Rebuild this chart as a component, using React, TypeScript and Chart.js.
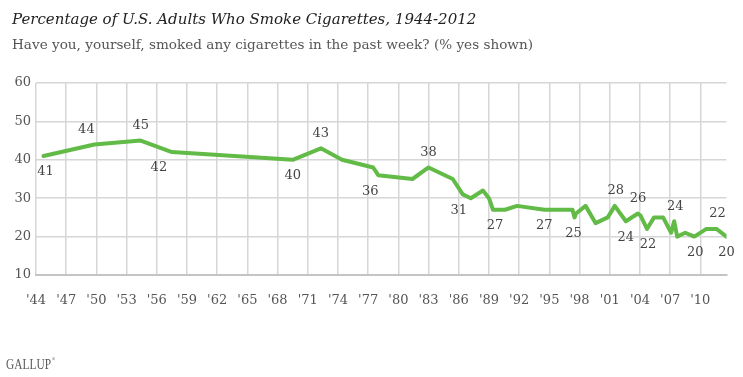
import React, { useEffect, useRef } from "react";
import { Chart, registerables } from "chart.js";

Chart.register(...registerables);

// Survey dates (decimal years) and % of U.S. adults who smoked in the past week
const years = [
  1944.75, 1949.8, 1954.4, 1957.5, 1969.5, 1972.3, 1974.4, 1977.5, 1978.0, 1981.4,
  1983.0, 1985.4, 1986.4, 1987.2, 1988.4, 1989.0, 1989.4, 1990.6, 1991.8, 1994.5,
  1997.3, 1997.5, 1997.65, 1998.6, 1999.6, 2000.8, 2001.5, 2002.6, 2003.8, 2004.05,
  2004.7, 2005.4, 2006.3, 2007.1, 2007.4, 2007.7, 2008.5, 2009.4, 2010.6, 2011.6,
  2012.6,
];
const smokers = [
  41, 44, 45, 42, 40, 43, 40, 38, 36, 35,
  38, 35, 31, 30, 32, 30, 27, 27, 28, 27,
  27, 25, 26, 28, 23.5, 25, 28, 24, 26, 25.5,
  22, 25, 25, 21, 24, 20, 21, 20, 22, 22,
  20,
];

const tickYears = [
  1944, 1947, 1950, 1953, 1956, 1959, 1962, 1965, 1968, 1971, 1974, 1977,
  1980, 1983, 1986, 1989, 1992, 1995, 1998, 2001, 2004, 2007, 2010,
];
const yTicks = [10, 20, 30, 40, 50, 60];

// Which points carry a value label
const labelIndices = [0, 1, 2, 3, 4, 5, 8, 10, 12, 16, 19, 21, 26, 27, 28, 30, 34, 37, 39, 40];
// Styling of those labels: side of the line, and small horizontal nudge
const labelSide = [
  "below", "above", "above", "below", "below", "above", "below", "above", "below", "below",
  "below", "below", "above", "below", "above", "below", "above", "below", "above", "below",
];
const labelNudge = [2, -8, 0, -13, 0, 0, -8, 0, -4, 2, 0, -1, 1, 0, 0, 1, 1, 1, 1, 0];

const TITLE = "Percentage of U.S. Adults Who Smoke Cigarettes, 1944-2012";
const SUBTITLE = "Have you, yourself, smoked any cigarettes in the past week? (% yes shown)";

const SERIF = "'DejaVu Serif', 'Liberation Serif', serif";

const textPlugin = {
  id: "gallupText",
  afterDatasetsDraw(chart: any) {
    const ctx = chart.ctx as CanvasRenderingContext2D;
    const meta = chart.getDatasetMeta(0);
    ctx.save();
    ctx.fillStyle = "#444";
    ctx.font = `13px ${SERIF}`;
    ctx.textAlign = "center";
    ctx.textBaseline = "middle";
    labelIndices.forEach((idx, i) => {
      const el = meta.data[idx];
      if (!el) return;
      const dy = labelSide[i] === "above" ? -15 : 16;
      ctx.fillText(String(Math.round(smokers[idx])), el.x + labelNudge[i], el.y + dy);
    });
    ctx.restore();
  },
  afterDraw(chart: any) {
    const ctx = chart.ctx as CanvasRenderingContext2D;
    ctx.save();
    ctx.textAlign = "left";
    ctx.textBaseline = "alphabetic";
    ctx.fillStyle = "#222";
    ctx.font = `italic 15px ${SERIF}`;
    ctx.fillText(TITLE, 12, 24);
    ctx.fillStyle = "#555";
    ctx.font = `13.6px ${SERIF}`;
    ctx.fillText(SUBTITLE, 12, 49);
    // Gallup wordmark
    ctx.fillStyle = "#5a5a5a";
    ctx.font = `15px 'Liberation Serif', serif`;
    ctx.translate(6, 369);
    ctx.scale(0.76, 1);
    ctx.fillText("GALLUP", 0, 0);
    const w = ctx.measureText("GALLUP").width;
    ctx.font = `6px 'Liberation Serif', serif`;
    ctx.fillText("®", w + 1, -8);
    ctx.restore();
  },
};

export default function App() {
  const canvasRef = useRef<HTMLCanvasElement | null>(null);

  useEffect(() => {
    if (!canvasRef.current) return;
    const chart = new Chart(canvasRef.current, {
      type: "line",
      data: {
        datasets: [
          {
            data: years.map((x, i) => ({ x, y: smokers[i] })),
            borderColor: "#62BB47",
            borderWidth: 4,
            pointRadius: 0,
            tension: 0,
            borderJoinStyle: "round",
            borderCapStyle: "round",
            fill: false,
          },
        ],
      },
      options: {
        animation: false,
        responsive: false,
        maintainAspectRatio: false,
        layout: { padding: { left: 0, right: 16.5, top: 83, bottom: 62 } },
        plugins: {
          legend: { display: false },
          tooltip: { enabled: false },
          title: { display: false },
        },
        scales: {
          x: {
            type: "linear",
            min: 1944,
            max: 2012.6,
            afterBuildTicks: (scale: any) => {
              scale.ticks = tickYears.map((v) => ({ value: v }));
            },
            afterFit: (scale: any) => {
              scale.height = 40;
            },
            grid: {
              color: "#d6d6d6",
              lineWidth: 1.5,
              drawTicks: false,
            },
            border: { display: true, color: "#c4c4c4", width: 2 },
            ticks: {
              autoSkip: false,
              maxRotation: 0,
              padding: 18,
              color: "#555",
              font: { family: SERIF, size: 13 },
              callback: (v: any) => "'" + String(v).slice(2),
            },
          },
          y: {
            min: 10,
            max: 60,
            afterBuildTicks: (scale: any) => {
              scale.ticks = yTicks.map((v) => ({ value: v }));
            },
            afterFit: (scale: any) => {
              scale.width = 36;
            },
            grid: {
              color: "#d6d6d6",
              lineWidth: 1.5,
              drawTicks: false,
            },
            border: { display: false },
            ticks: {
              padding: 5,
              color: "#555",
              font: { family: SERIF, size: 13 },
            },
          },
        },
      },
      plugins: [textPlugin],
    });
    return () => chart.destroy();
  }, []);

  return (
    <div
      style={{
        position: "fixed",
        left: 0,
        top: 0,
        width: 743,
        height: 377,
        background: "#fff",
      }}
    >
      <canvas ref={canvasRef} width={743} height={377} style={{ display: "block" }} />
    </div>
  );
}
